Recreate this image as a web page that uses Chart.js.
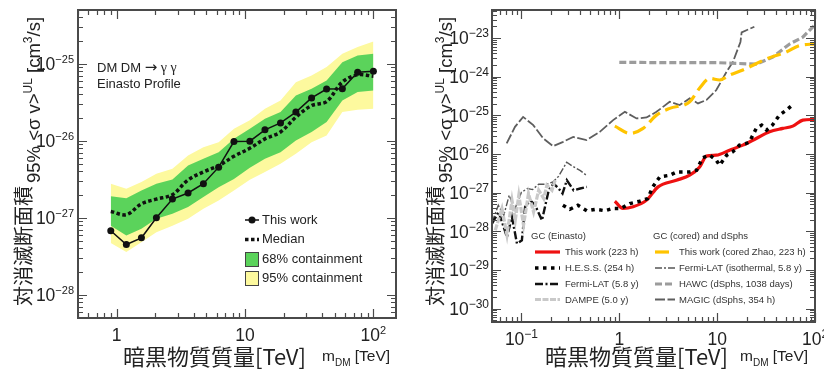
<!DOCTYPE html>
<html>
<head>
<meta charset="utf-8">
<script src="https://cdn.jsdelivr.net/npm/chart.js@4/dist/chart.umd.min.js"></script>
<style>
  html, body { margin: 0; padding: 0; background: #fff; }
  #wrap { position: relative; width: 824px; height: 369px; overflow: hidden; }
  canvas { position: absolute; top: 0; }
  #left { left: 0; }
  #right { left: 412px; }
</style>
</head>
<body>
<div id="wrap">
  <canvas id="left" width="412" height="369"></canvas>
  <canvas id="right" width="412" height="369"></canvas>
</div>
<script>
// ---- left panel: DM DM -> gamma gamma, Einasto ----
const massL = [0.9, 1.19, 1.56, 2.04, 2.72, 3.6, 4.74, 6.23, 8.2, 10.9, 14.3, 18.9, 24.9, 33, 43.2, 57.3, 75.4, 100];
const thisWorkL = [6.8e-28, 4.5e-28, 5.5e-28, 1.0e-27, 1.75e-27, 2.1e-27, 2.77e-27, 4.55e-27, 9.8e-27, 9.9e-27,
                   1.39e-26, 1.71e-26, 2.36e-26, 3.61e-26, 4.7e-26, 4.75e-26, 7.8e-26, 8.0e-26];
const medianL = [1.21e-27, 1.1e-27, 1.52e-27, 1.75e-27, 2.0e-27, 3.1e-27, 3.95e-27, 4.75e-27, 6.3e-27, 8.0e-27,
                 1.06e-26, 1.3e-26, 2.03e-26, 2.87e-26, 3.24e-26, 5.8e-26, 7.2e-26, 6.9e-26];
const band95Hi = [2.77e-27, 2.38e-27, 2.91e-27, 3.73e-27, 4.33e-27, 6.45e-27, 8.28e-27, 9.6e-27, 1.43e-26, 1.85e-26,
                  2.6e-26, 3.34e-26, 5.78e-26, 7.05e-26, 9.06e-26, 1.35e-25, 1.65e-25, 1.95e-25];
const band68Hi = [1.91e-27, 1.8e-27, 2.26e-27, 2.77e-27, 3.14e-27, 4.78e-27, 5.84e-27, 7.13e-27, 1.06e-26, 1.43e-26,
                  1.93e-26, 2.36e-26, 3.88e-26, 4.73e-26, 6.07e-26, 1.05e-25, 1.28e-25, 1.35e-25];
const band68Lo = [7.9e-28, 5.9e-28, 7.2e-28, 9.7e-28, 1.13e-27, 1.38e-27, 1.86e-27, 2.5e-27, 3.2e-27, 4.46e-27,
                  5.84e-27, 7.13e-27, 1.01e-26, 1.3e-26, 1.75e-26, 3.34e-26, 4.29e-26, 4.5e-26];
const band95Lo = [4.7e-28, 3.6e-28, 4.8e-28, 6.5e-28, 7.9e-28, 9.7e-28, 1.31e-27, 1.68e-27, 2.26e-27, 3.12e-27,
                  3.93e-27, 5.03e-27, 6.78e-27, 9.6e-27, 1.17e-26, 2.36e-26, 2.53e-26, 2.6e-26];

// ---- right panel: comparison ----
const massRed = [0.9, 1.09, 1.38, 1.9, 2.49, 3.83, 5.24, 6.63, 7.76, 9.8, 13.4, 18.3, 25.1, 34.3, 46.9, 59.3, 75.1, 91.5, 100];
const redThisWork = [6.0e-28, 3.9e-28, 4.3e-28, 6.4e-28, 1.41e-27, 2.09e-27, 2.82e-27, 4.63e-27, 8.8e-27, 9.3e-27,
                     1.25e-26, 1.69e-26, 2.52e-26, 3.74e-26, 4.58e-26, 5.25e-26, 7.5e-26, 7.8e-26, 7.8e-26];
const massHess = [0.265, 0.312, 0.377, 0.466, 0.576, 0.711, 0.858, 1.04, 1.28, 1.62, 1.95, 2.2, 2.59, 3.27, 3.86,
                  5.24, 6.17, 7.1, 8.4, 9.8, 10.6, 12.5, 14.4, 16.9, 19.9, 21.4, 25.1, 28.5, 32, 36.7, 43.3, 51, 58.6];
const hess = [4.7e-28, 3.7e-28, 4.7e-28, 3.4e-28, 3.7e-28, 3.4e-28, 3.9e-28, 3.9e-28, 5.2e-28, 6.0e-28, 7.0e-28,
              1.41e-27, 2.55e-27, 2.82e-27, 3.44e-27, 3.44e-27, 3.8e-27, 8.0e-27, 9.3e-27, 6.9e-27, 5.1e-27,
              9.3e-27, 1.13e-26, 1.69e-26, 1.87e-26, 2.06e-26, 4.58e-26, 5.57e-26, 4.14e-26, 5.57e-26, 1.01e-25,
              1.36e-25, 1.84e-25];
const massFermi = [0.05, 0.0585, 0.0658, 0.0711, 0.08, 0.09, 0.101, 0.109, 0.123, 0.138, 0.162, 0.19, 0.213,
                   0.24, 0.263, 0.291, 0.341, 0.398, 0.466];
const fermi = [1.58e-28, 3.16e-28, 1.29e-28, 7.1e-29, 2.34e-28, 4.8e-29, 5.85e-29, 4.27e-28, 6.35e-28, 4.72e-28,
               1.93e-28, 1.15e-27, 1.72e-27, 1.28e-27, 9.5e-28, 2.09e-27, 1.15e-27, 1.28e-27, 1.41e-27];
const massDampe = [0.054, 0.0632, 0.0711, 0.08, 0.0865, 0.094, 0.105, 0.118, 0.133, 0.15, 0.169, 0.182, 0.205, 0.221];
const dampe = [1.06e-28, 3.87e-28, 8.0e-29, 6.35e-28, 1.93e-28, 8.6e-28, 1.43e-28, 9.5e-28, 3.16e-28, 1.15e-27,
               7.0e-28, 1.56e-27, 1.15e-27, 2.09e-27];
const massIso = [0.05, 0.058, 0.066, 0.075, 0.085, 0.1, 0.115, 0.13, 0.15, 0.18, 0.21, 0.24, 0.29, 0.33, 0.40, 0.46];
const fermiIso = [1.7e-28, 4.7e-28, 2.6e-28, 8.6e-28, 3.6e-28, 1.02e-27, 1.28e-27, 1.2e-27, 1.65e-27, 1.65e-27,
                  1.88e-27, 2.66e-27, 6.1e-27, 4.9e-27, 3.7e-27, 2.82e-27];
const massHawc = [1, 3, 10, 20, 25, 37, 55, 75, 100];
const hawc = [2.35e-24, 2.3e-24, 2.3e-24, 2.15e-24, 2.1e-24, 3.2e-24, 7.0e-24, 1.05e-23, 2.2e-23];
const massCored = [0.9, 1.29, 1.75, 2.4, 3.27, 5.24, 6.63, 8.4, 10.6, 13.4, 18.3, 31.7, 50.8, 69.6, 100];
const cored = [5.25e-26, 3.4e-26, 4.58e-26, 1.01e-25, 1.51e-25, 2.24e-25, 5.07e-25, 9.0e-25, 8.2e-25, 1.1e-24,
               1.48e-24, 2.86e-24, 4.34e-24, 6.4e-24, 7.0e-24];
const massMagic = [0.0706, 0.0859, 0.104, 0.132, 0.167, 0.211, 0.267, 0.338, 0.463, 0.632, 0.865, 1.14, 1.5, 1.9,
                   2.4, 3.27, 4.14, 5.24, 6.37, 7.76, 9.8, 12.4, 14.5, 17.3, 17.8, 24];
const magic = [1.87e-26, 5.04e-26, 9.1e-26, 5.57e-26, 2.52e-26, 1.59e-26, 2.06e-26, 2.77e-26, 2.28e-26, 3.74e-26,
               7.51e-26, 1.23e-25, 8.3e-26, 8.8e-26, 1.23e-25, 2.24e-25, 1.84e-25, 2.74e-25, 2.03e-25, 2.48e-25,
               4.5e-25, 1.3e-24, 2.4e-24, 7.9e-24, 1.4e-23, 1.96e-23];

// tick labels ("^" marks the exponent)
const leftXTicks = [1, 10, 100];
const leftXLabels = ['1', '10', '10^2'];
const leftYTicks = [1e-28, 1e-27, 1e-26, 1e-25];
const leftYLabels = ['10^−28', '10^−27', '10^−26', '10^−25'];
const rightXTicks = [0.1, 1, 10, 100];
const rightXLabels = ['10^−1', '1', '10', '10^2'];
const rightYTicks = [1e-30, 1e-29, 1e-28, 1e-27, 1e-26, 1e-25, 1e-24, 1e-23];
const rightYLabels = ['10^−30', '10^−29', '10^−28', '10^−27', '10^−26', '10^−25', '10^−24', '10^−23'];

const SANS = '"Liberation Sans", Arial, sans-serif';
const CJK = '"Noto Sans CJK JP", sans-serif';
const GREEN = '#5bd35b';
const YELLOW = '#fdf99e';
const TXT = '#222';

const pts = (xs, ys) => xs.map((m, i) => ({ x: m, y: ys[i] }));

function logSteps(min, max) {
  const out = [];
  for (let e = Math.floor(Math.log10(min)); e <= Math.ceil(Math.log10(max)); e++) {
    for (let k = 1; k <= 9; k++) {
      const v = k * Math.pow(10, e);
      if (v >= min * 0.999 && v <= max * 1.001) out.push([v, k === 1]);
    }
  }
  return out;
}

// parts: [text, size, dy]
function rich(ctx, parts, x, y, draw = true) {
  let cx = x;
  for (const [t, s, dy] of parts) {
    ctx.font = s + 'px ' + SANS;
    if (draw) ctx.fillText(t, cx, y + (dy || 0));
    cx += ctx.measureText(t).width;
  }
  return cx - x;
}

function tickParts(label, base, exp, raise) {
  const [b, e] = label.split('^');
  return e ? [[b, base, 0], [e, exp, -raise]] : [[b, base, 0]];
}

// frame, inward log ticks on all four sides, and the tick labels
function makeAxes(cfg) {
  return {
    id: 'axesFrame',
    afterDraw(chart) {
      const { ctx, chartArea: a, scales: { x, y } } = chart;
      ctx.save();
      ctx.strokeStyle = '#4a4a4a';
      ctx.lineWidth = 1.2;
      ctx.beginPath();
      logSteps(x.min, x.max).forEach(([v, major]) => {
        const p = Math.round(x.getPixelForValue(v)) + 0.5;
        const len = major ? 9 : 5;
        ctx.moveTo(p, a.bottom); ctx.lineTo(p, a.bottom - len);
        ctx.moveTo(p, a.top); ctx.lineTo(p, a.top + len);
      });
      logSteps(y.min, y.max).forEach(([v, major]) => {
        const p = Math.round(y.getPixelForValue(v)) + 0.5;
        const len = major ? 9 : 5;
        ctx.moveTo(a.left, p); ctx.lineTo(a.left + len, p);
        ctx.moveTo(a.right, p); ctx.lineTo(a.right - len, p);
      });
      ctx.stroke();
      ctx.lineWidth = 2;
      ctx.strokeRect(a.left, a.top, a.right - a.left, a.bottom - a.top);

      ctx.fillStyle = TXT;
      ctx.textBaseline = 'alphabetic';
      ctx.textAlign = 'left';
      cfg.xTicks.forEach((v, i) => {
        const parts = tickParts(cfg.xLabels[i], cfg.base, cfg.exp, cfg.raise);
        const w = rich(ctx, parts, 0, 0, false);
        rich(ctx, parts, x.getPixelForValue(v) - w / 2, a.bottom + 23);
      });
      cfg.yTicks.forEach((v, i) => {
        const parts = tickParts(cfg.yLabels[i], cfg.base, cfg.exp, cfg.raise);
        const w = rich(ctx, parts, 0, 0, false);
        rich(ctx, parts, a.left - cfg.yPad - w, y.getPixelForValue(v) + 6.5);
      });

      // axis titles
      const yt = [['95% <σ v>', 18.5], ['UL', 12, -8], [' [cm', 18.5], ['3', 12, -8], ['/s]', 18.5]];
      ctx.save();
      ctx.translate(40, 183);
      ctx.rotate(-Math.PI / 2);
      rich(ctx, yt, 0, 0);
      ctx.restore();
      ctx.save();
      ctx.translate(31, 306);
      ctx.rotate(-Math.PI / 2);
      ctx.font = '20px ' + CJK;
      ctx.fillText('対消滅断面積', 0, 0);
      ctx.restore();

      ctx.font = '22px ' + CJK;
      ctx.fillText('暗黒物質質量[TeV]', cfg.xTitleX, 364.5);
      rich(ctx, [['m', 15.5], ['DM', 10, 5], [' [TeV]', 15.5]], cfg.mX, 361);
      ctx.restore();
    }
  };
}

function logAxis(min, max, fit) {
  return {
    type: 'logarithmic', min, max,
    grid: { display: false, drawTicks: false },
    border: { display: false },
    ticks: { display: false },
    afterFit: fit,
  };
}

// ---------- left chart ----------
const leftText = {
  id: 'leftText',
  afterDraw(chart) {
    const { ctx } = chart;
    ctx.save();
    ctx.fillStyle = TXT;
    ctx.font = '13px ' + SANS;
    ctx.textBaseline = 'alphabetic';
    ctx.fillText('DM DM', 97, 72);
    const w = ctx.measureText('DM DM ').width;
    ctx.font = '15px "DejaVu Sans", sans-serif';
    ctx.fillText('→', 97 + w, 72);
    const w2 = ctx.measureText('→').width;
    ctx.font = '14px "Liberation Serif", serif';
    ctx.fillText(' γ γ', 97 + w + w2, 72);
    ctx.font = '13px ' + SANS;
    ctx.fillText('Einasto Profile', 97, 87.5);

    // legend
    const ds = chart.data.datasets;
    const tx = 262, x0 = 245, x1 = 259;
    ctx.textBaseline = 'middle';
    const tw = ds[5];
    ctx.strokeStyle = tw.borderColor; ctx.lineWidth = tw.borderWidth;
    ctx.beginPath(); ctx.moveTo(x0, 220); ctx.lineTo(x1, 220); ctx.stroke();
    ctx.fillStyle = tw.pointBackgroundColor;
    ctx.beginPath(); ctx.arc(252, 220, tw.pointRadius, 0, Math.PI * 2); ctx.fill();
    const md = ds[4];
    ctx.strokeStyle = md.borderColor; ctx.lineWidth = md.borderWidth;
    ctx.setLineDash(md.borderDash);
    ctx.beginPath(); ctx.moveTo(x0, 239.5); ctx.lineTo(x1, 239.5); ctx.stroke();
    ctx.setLineDash([]);
    ctx.lineWidth = 1;
    ctx.strokeStyle = '#444';
    ctx.fillStyle = ds[2].backgroundColor;
    ctx.fillRect(245.5, 252.5, 13, 14); ctx.strokeRect(245.5, 252.5, 13, 14);
    ctx.fillStyle = ds[0].backgroundColor;
    ctx.fillRect(245.5, 271.5, 13, 14); ctx.strokeRect(245.5, 271.5, 13, 14);
    ctx.fillStyle = TXT;
    ctx.fillText(tw.label, tx, 220.5);
    ctx.fillText(md.label, tx, 239.5);
    ctx.fillText(ds[2].label, tx, 259.5);
    ctx.fillText(ds[0].label, tx, 278.5);
    ctx.restore();
  }
};

const none = 'rgba(0,0,0,0)';
new Chart(document.getElementById('left'), {
  type: 'line',
  data: {
    datasets: [
      { label: '95% containment', data: pts(massL, band95Hi), borderColor: none, borderWidth: 0,
        backgroundColor: YELLOW, fill: '+1', pointRadius: 0, order: 6 },
      { label: '95% low', data: pts(massL, band95Lo), borderColor: none, borderWidth: 0, fill: false,
        pointRadius: 0, order: 5 },
      { label: '68% containment', data: pts(massL, band68Hi), borderColor: none, borderWidth: 0,
        backgroundColor: GREEN, fill: '+1', pointRadius: 0, order: 4 },
      { label: '68% low', data: pts(massL, band68Lo), borderColor: none, borderWidth: 0, fill: false,
        pointRadius: 0, order: 3 },
      { label: 'Median', data: pts(massL, medianL), borderColor: '#111', borderWidth: 3.5, borderDash: [3.5, 2.5],
        tension: 0.35, fill: false, pointRadius: 0, order: 2 },
      { label: 'This work', data: pts(massL, thisWorkL), borderColor: '#111', borderWidth: 1.5, fill: false,
        pointRadius: 3.5, pointBackgroundColor: '#111', pointBorderWidth: 0, order: 1 },
    ]
  },
  options: {
    responsive: false, animation: false, devicePixelRatio: 1,
    layout: { padding: { top: 10, right: 16, left: 0, bottom: 0 } },
    plugins: { legend: { display: false }, tooltip: { enabled: false } },
    scales: {
      x: logAxis(0.5, 150, s => { s.height = 51; s.paddingLeft = 0; s.paddingRight = 0; }),
      y: logAxis(5e-29, 5e-25, s => { s.width = 78; s.paddingTop = 0; s.paddingBottom = 0; }),
    }
  },
  plugins: [makeAxes({ xTicks: leftXTicks, xLabels: leftXLabels, yTicks: leftYTicks, yLabels: leftYLabels,
    base: 17.5, exp: 11, raise: 7, yPad: 4, xTitleX: 123, mX: 322 }), leftText]
});

// ---------- right chart ----------
const legendCols = [
  { head: 'GC (Einasto)', hx: 119, sx: 123, ex: 148, tx: 153,
    items: ['This work (223 h)', 'H.E.S.S. (254 h)', 'Fermi-LAT (5.8 y)', 'DAMPE (5.0 y)'] },
  { head: 'GC (cored) and dSphs', hx: 241, sx: 243, ex: 263, tx: 267,
    items: ['This work (cored Zhao, 223 h)', 'Fermi-LAT (isothermal, 5.8 y)', 'HAWC (dSphs, 1038 days)', 'MAGIC (dSphs, 354 h)'] },
];
const rightLegend = {
  id: 'rightLegend',
  afterDraw(chart) {
    const { ctx } = chart;
    const rows = [252, 268, 284, 299.5];
    ctx.save();
    ctx.textBaseline = 'middle';
    ctx.font = '9.5px ' + SANS;
    legendCols.forEach(col => {
      ctx.fillStyle = '#333';
      ctx.fillText(col.head, col.hx, 236.5);
      col.items.forEach((name, i) => {
        const d = chart.data.datasets.find(s => s.label === name);
        ctx.strokeStyle = d.borderColor;
        ctx.lineWidth = d.borderWidth;
        ctx.setLineDash(d.borderDash || []);
        ctx.beginPath(); ctx.moveTo(col.sx, rows[i]); ctx.lineTo(col.ex, rows[i]); ctx.stroke();
        ctx.setLineDash([]);
        ctx.fillStyle = '#333';
        ctx.fillText(name, col.tx, rows[i] + 0.5);
      });
    });
    ctx.restore();
  }
};

const curve = (label, xs, ys, color, width, dash, order, extra) => Object.assign({
  label, data: pts(xs, ys), borderColor: color, borderWidth: width, borderDash: dash,
  fill: false, pointRadius: 0, tension: 0, order
}, extra || {});

new Chart(document.getElementById('right'), {
  type: 'line',
  data: {
    datasets: [
      curve('MAGIC (dSphs, 354 h)', massMagic, magic, '#5e5e5e', 1.8, [10, 2.5], 8),
      curve('HAWC (dSphs, 1038 days)', massHawc, hawc, '#9c9c9c', 3.2, [7, 3], 7),
      curve('Fermi-LAT (isothermal, 5.8 y)', massIso, fermiIso, '#555555', 1.4, [7, 2, 2, 2], 6),
      curve('DAMPE (5.0 y)', massDampe, dampe, '#c9c9c9', 3.2, [6, 1.5], 4),
      curve('Fermi-LAT (5.8 y)', massFermi, fermi, '#111111', 2.4, [8, 2.5, 2, 2.5], 5),
      curve('This work (cored Zhao, 223 h)', massCored, cored, '#ffc400', 3.2, [14, 6], 3, { cubicInterpolationMode: 'monotone' }),
      curve('This work (223 h)', massRed, redThisWork, '#ee1111', 3.2, [], 2, { cubicInterpolationMode: 'monotone' }),
      curve('H.E.S.S. (254 h)', massHess, hess, '#000000', 3.5, [3.5, 4.5], 1),
    ]
  },
  options: {
    responsive: false, animation: false, devicePixelRatio: 1,
    layout: { padding: { top: 10, right: 9, left: 0, bottom: 0 } },
    plugins: { legend: { display: false }, tooltip: { enabled: false } },
    scales: {
      x: logAxis(0.05, 100, s => { s.height = 47; s.paddingLeft = 0; s.paddingRight = 0; }),
      y: logAxis(4.5e-31, 5.3e-23, s => { s.width = 80; s.paddingTop = 0; s.paddingBottom = 0; }),
    }
  },
  plugins: [makeAxes({ xTicks: rightXTicks, xLabels: rightXLabels, yTicks: rightYTicks, yLabels: rightYLabels,
    base: 17.5, exp: 12, raise: 7, yPad: 3, xTitleX: 133, mX: 328 }), rightLegend]
});
</script>
</body>
</html>
